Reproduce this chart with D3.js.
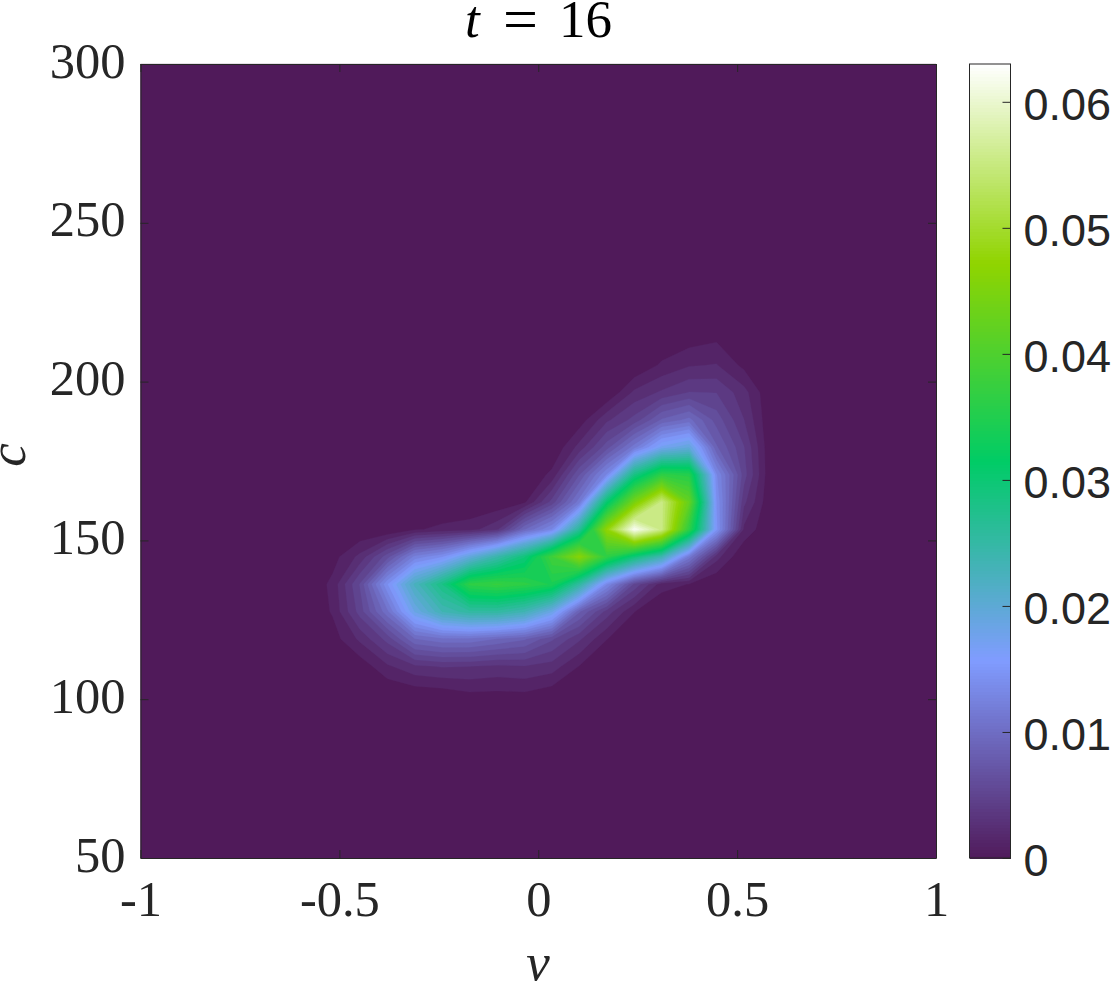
<!DOCTYPE html>
<html><head><meta charset="utf-8">
<script src="https://cdn.jsdelivr.net/npm/d3@7"></script>
<style>html,body{margin:0;padding:0;background:#fff}svg{display:block}</style>
</head><body>
<svg id="c" width="1111" height="982"></svg>
<script>
// density on a 30 x 30 grid, thousandths; first row is c = 300, first column v = -1
const Z = [
[0,0,0,0,0,0,0,0,0,0,0,0,0,0,0,0,0,0,0,0,0,0,0,0,0,0,0,0,0,0],
[0,0,0,0,0,0,0,0,0,0,0,0,0,0,0,0,0,0,0,0,0,0,0,0,0,0,0,0,0,0],
[0,0,0,0,0,0,0,0,0,0,0,0,0,0,0,0,0,0,0,0,0,0,0,0,0,0,0,0,0,0],
[0,0,0,0,0,0,0,0,0,0,0,0,0,0,0,0,0,0,0,0,0,0,0,0,0,0,0,0,0,0],
[0,0,0,0,0,0,0,0,0,0,0,0,0,0,0,0,0,0,0,0,0,0,0,0,0,0,0,0,0,0],
[0,0,0,0,0,0,0,0,0,0,0,0,0,0,0,0,0,0,0,0,0,0,0,0,0,0,0,0,0,0],
[0,0,0,0,0,0,0,0,0,0,0,0,0,0,0,0,0,0,0,0,0,0,0,0,0,0,0,0,0,0],
[0,0,0,0,0,0,0,0,0,0,0,0,0,0,0,0,0,0,0,0,0,0,0,0,0,0,0,0,0,0],
[0,0,0,0,0,0,0,0,0,0,0,0,0,0,0,0,0,0,0,0,0,0,0,0,0,0,0,0,0,0],
[0,0,0,0,0,0,0,0,0,0,0,0,0,0,0,0,0,0,0,0,0,0,0,0,0,0,0,0,0,0],
[0,0,0,0,0,0,0,0,0,0,0,0,0,0,0,0,0,0,0,0,0.6,1.0,0,0,0,0,0,0,0,0],
[0,0,0,0,0,0,0,0,0,0,0,0,0,0,0,0,0,0,0,1.5,2.4,2.6,0.9,0,0,0,0,0,0,0],
[0,0,0,0,0,0,0,0,0,0,0,0,0,0,0,0,0,0,2.8,4,5.1,5,3,0,0,0,0,0,0,0],
[0,0,0,0,0,0,0,0,0,0,0,0,0,0,0,0,0.5,3.5,5.5,9,10.5,7,3.8,0,0,0,0,0,0,0],
[0,0,0,0,0,0,0,0,0,0,0,0,0,0,0,0,3,7,12,18,20,9,5.1,0,0,0,0,0,0,0],
[0,0,0,0,0,0,0,0,0,0,0,0,0,0,0,1.6,7.5,14,29,37,36,14,5.6,0,0,0,0,0,0,0],
[0,0,0,0,0,0,0,0,0,0,0,0,0,0.2,1,5.5,12,31,45,56,43,15,4.1,0,0,0,0,0,0,0],
[0,0,0,0,0,0,0,0,0,0,1.1,1.6,2,3.5,10,14,27,48,63,56,37,15.5,2.2,0,0,0,0,0,0,0],
[0,0,0,0,0,0,0,0.7,2.9,7,13,15,20,25,30,39,47,37,30,24,12,3,0,0,0,0,0,0,0,0],
[0,0,0,0,0,0,0,1.6,6.4,15,23,29,37,38,37,35,26,14,6,1.8,1.2,0,0,0,0,0,0,0,0,0],
[0,0,0,0,0,0,0,1.4,5.6,11,19,24,26,26,24,19,9,4.5,1.3,0,0,0,0,0,0,0,0,0,0,0],
[0,0,0,0,0,0,0,0.6,2.8,5.5,10,11,11,10,9,6.5,4,1.3,0,0,0,0,0,0,0,0,0,0,0,0],
[0,0,0,0,0,0,0,0,0.4,2.3,3.5,3.9,3.8,3.5,3.7,3.2,1.2,0,0,0,0,0,0,0,0,0,0,0,0,0],
[0,0,0,0,0,0,0,0,0,0,0.4,0.6,1.1,1,1.1,0.5,0,0,0,0,0,0,0,0,0,0,0,0,0,0],
[0,0,0,0,0,0,0,0,0,0,0,0,0,0,0,0,0,0,0,0,0,0,0,0,0,0,0,0,0,0],
[0,0,0,0,0,0,0,0,0,0,0,0,0,0,0,0,0,0,0,0,0,0,0,0,0,0,0,0,0,0],
[0,0,0,0,0,0,0,0,0,0,0,0,0,0,0,0,0,0,0,0,0,0,0,0,0,0,0,0,0,0],
[0,0,0,0,0,0,0,0,0,0,0,0,0,0,0,0,0,0,0,0,0,0,0,0,0,0,0,0,0,0],
[0,0,0,0,0,0,0,0,0,0,0,0,0,0,0,0,0,0,0,0,0,0,0,0,0,0,0,0,0,0],
[0,0,0,0,0,0,0,0,0,0,0,0,0,0,0,0,0,0,0,0,0,0,0,0,0,0,0,0,0,0]
];
const xTicks = [-1, -0.5, 0, 0.5, 1];
const yTicks = [50, 100, 150, 200, 250, 300];
const barTicks = [0, 0.01, 0.02, 0.03, 0.04, 0.05, 0.06];
const colorStops = ["#501a5a", "#809cff", "#00cc66", "#90d400", "#ffffff"];
const zMax = 0.063;
const levelCount = 50;

const ink = "#262626";
const serif = "'Liberation Serif', serif";
const sans = "'Liberation Sans', sans-serif";
const box = {l: 140.5, r: 936, t: 64, b: 858};
const bar = {l: 969.5, r: 1010.5};

const svg = d3.select("#c");
const x = d3.scaleLinear().domain([-1, 1]).range([box.l, box.r]);
const y = d3.scaleLinear().domain([50, 300]).range([box.b, box.t]);
const zBar = d3.scaleLinear().domain([0, zMax]).range([box.b, box.t]);
const color = d3.scaleLinear()
  .domain(colorStops.map((_, i) => zMax * i / (colorStops.length - 1)))
  .range(colorStops).interpolate(d3.interpolateRgb).clamp(true);

// filled contours
const nRows = Z.length, nCols = Z[0].length;
const flat = Z.flat().map(d => d / 1000);
const levels = d3.range(levelCount).map(i => zMax * i / levelCount);
const gridX = g => x(-1 + 2 * Math.min(Math.max(g - 0.5, 0), nCols - 1) / (nCols - 1));
const gridY = g => y(300 - 250 * Math.min(Math.max(g - 0.5, 0), nRows - 1) / (nRows - 1));
const path = d3.geoPath(d3.geoTransform({
  point(px, py) { this.stream.point(gridX(px), gridY(py)); }
}));
const bands = d3.contours().size([nCols, nRows]).smooth(true).thresholds(levels)(flat);
svg.append("g").selectAll("path").data(bands).join("path")
  .attr("d", path)
  .attr("fill", d => color(d.value))
  .attr("stroke", d => color(d.value))
  .attr("stroke-width", 0.3);

// axes: inward ticks on all four sides
function styleAxis(g) {
  g.selectAll(".domain").attr("stroke", ink).attr("stroke-width", 1);
  g.selectAll(".tick line").attr("stroke", ink).attr("stroke-width", 1);
}
const tick = 8;
const fmt = d => String(d);
const gB = svg.append("g").attr("transform", `translate(0,${box.b})`)
  .call(d3.axisBottom(x).tickValues(xTicks).tickFormat(fmt).tickSizeInner(-tick).tickSizeOuter(0).tickPadding(0)).call(styleAxis);
gB.selectAll("text").attr("font-family", serif).attr("font-size", 50.5).attr("fill", ink)
  .attr("y", 58).attr("dy", 0);
const gL = svg.append("g").attr("transform", `translate(${box.l},0)`)
  .call(d3.axisLeft(y).tickValues(yTicks).tickFormat(fmt).tickSizeInner(-tick).tickSizeOuter(0).tickPadding(0)).call(styleAxis);
gL.selectAll("text").attr("font-family", serif).attr("font-size", 50.5).attr("fill", ink)
  .attr("x", -15).attr("dy", 13);
svg.append("g").attr("transform", `translate(0,${box.t})`)
  .call(d3.axisTop(x).tickValues(xTicks).tickFormat("").tickSizeInner(-tick).tickSizeOuter(0)).call(styleAxis);
svg.append("g").attr("transform", `translate(${box.r},0)`)
  .call(d3.axisRight(y).tickValues(yTicks).tickFormat("").tickSizeInner(-tick).tickSizeOuter(0)).call(styleAxis);

// title and axis labels
const title = svg.append("text").attr("y", 37).attr("font-family", serif).attr("font-size", 53).attr("fill", "#000");
title.append("tspan").attr("x", 465).attr("font-style", "italic").text("t");
title.append("tspan").attr("x", 503).attr("font-size", 62).attr("dy", 3).text("=");
title.append("tspan").attr("x", 559).attr("dy", -3).text("16");
svg.append("text").attr("x", 538).attr("y", 980).attr("text-anchor", "middle")
  .attr("font-family", serif).attr("font-style", "italic").attr("font-size", 53).attr("fill", ink).text("v");
svg.append("text").attr("transform", "translate(25,455) rotate(-90)").attr("text-anchor", "middle")
  .attr("font-family", serif).attr("font-style", "italic").attr("font-size", 53).attr("fill", ink).text("c");

// colorbar
const barSteps = d3.range(256);
svg.append("g").attr("shape-rendering", "crispEdges").selectAll("rect").data(barSteps).join("rect")
  .attr("x", bar.l).attr("width", bar.r - bar.l)
  .attr("y", i => zBar(zMax * (i + 1) / 256))
  .attr("height", i => zBar(zMax * i / 256) - zBar(zMax * (i + 1) / 256) + 1)
  .attr("fill", i => color(zMax * (i + 0.5) / 256));
svg.append("rect").attr("x", bar.l).attr("y", box.t).attr("width", bar.r - bar.l).attr("height", box.b - box.t)
  .attr("fill", "none").attr("stroke", ink).attr("stroke-width", 1);
const gBar = svg.append("g").attr("transform", `translate(${bar.r},0)`)
  .call(d3.axisRight(zBar).tickValues(barTicks).tickFormat(fmt).tickSizeInner(-tick).tickSizeOuter(0).tickPadding(0)).call(styleAxis);
gBar.select(".domain").remove();
gBar.selectAll("text").attr("font-family", sans).attr("font-size", 45).attr("fill", ink)
  .attr("x", 13).attr("dy", 17.5);
</script>
</body></html>
